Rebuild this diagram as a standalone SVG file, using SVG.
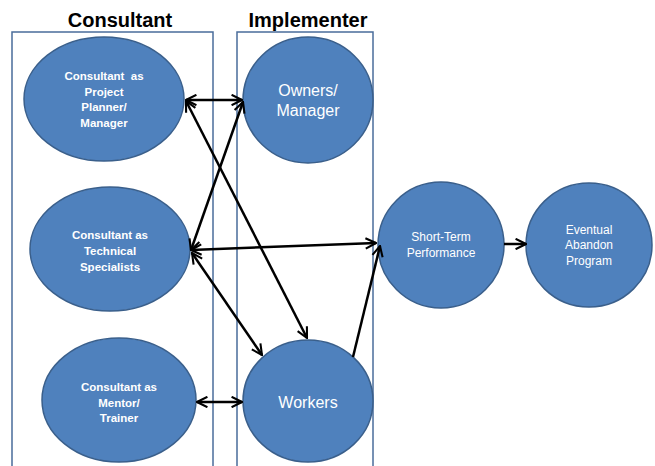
<svg xmlns="http://www.w3.org/2000/svg" width="655" height="466" viewBox="0 0 655 466">
<defs>
<marker id="ah" viewBox="0 0 12 12" refX="11" refY="6" markerWidth="5" markerHeight="5" orient="auto-start-reverse" markerUnits="strokeWidth">
<path d="M1,1 L11,6 L1,11" fill="none" stroke="#000" stroke-width="2"/>
</marker>
<style>
.lane{fill:none;stroke:#4A6C9B;stroke-width:1.5}
.head{font-family:"Liberation Sans",Arial,sans-serif;font-weight:bold;font-size:20px;fill:#000;text-anchor:middle}
.node ellipse{fill:#4F81BD;stroke:#3A5F8B;stroke-width:1.5}
.sb{font-family:"Liberation Sans",Arial,sans-serif;font-weight:bold;font-size:11.5px;fill:#fff;text-anchor:middle;white-space:pre}
.lg{font-family:"Liberation Sans",Arial,sans-serif;font-size:16px;fill:#fff;text-anchor:middle}
.sm{font-family:"Liberation Sans",Arial,sans-serif;font-size:12px;fill:#fff;text-anchor:middle}
.conn line{stroke:#000;stroke-width:2.5;marker-end:url(#ah)}
.conn line.both{marker-start:url(#ah)}
</style>
</defs>
<rect width="655" height="466" fill="#fff"/>
<g id="lanes">
<rect class="lane" x="12" y="32" width="201" height="450"/>
<rect class="lane" x="237" y="32" width="136" height="450"/>
<text class="head" x="120" y="27">Consultant</text>
<text class="head" x="308" y="27">Implementer</text>
</g>
<g id="planner" class="node">
<ellipse cx="104" cy="99" rx="80" ry="62"/>
<text class="sb" x="104" y="80">Consultant  as</text>
<text class="sb" x="104" y="96">Project</text>
<text class="sb" x="104" y="111">Planner/</text>
<text class="sb" x="104" y="127">Manager</text>
</g>
<g id="owners" class="node">
<ellipse cx="308" cy="100" rx="65" ry="63"/>
<text class="lg" x="308" y="96">Owners/</text>
<text class="lg" x="308" y="116">Manager</text>
</g>
<g id="technical" class="node">
<ellipse cx="110" cy="249" rx="80" ry="62"/>
<text class="sb" x="110" y="239">Consultant as</text>
<text class="sb" x="110" y="255">Technical</text>
<text class="sb" x="110" y="271">Specialists</text>
</g>
<g id="mentor" class="node">
<ellipse cx="119" cy="400" rx="77" ry="62"/>
<text class="sb" x="119" y="391">Consultant as</text>
<text class="sb" x="119" y="407">Mentor/</text>
<text class="sb" x="119" y="422">Trainer</text>
</g>
<g id="workers" class="node">
<ellipse cx="308" cy="401" rx="65" ry="61"/>
<text class="lg" x="308" y="408">Workers</text>
</g>
<g id="shortterm" class="node">
<ellipse cx="441" cy="245" rx="63" ry="63"/>
<text class="sm" x="441" y="241">Short-Term</text>
<text class="sm" x="441" y="257">Performance</text>
</g>
<g id="eventual" class="node">
<ellipse cx="589" cy="245" rx="63" ry="62"/>
<text class="sm" x="589" y="234">Eventual</text>
<text class="sm" x="589" y="249">Abandon</text>
<text class="sm" x="589" y="265">Program</text>
</g>
<g id="connectors" class="conn">
<line class="both" x1="186" y1="100" x2="242" y2="100"/>
<line class="both" x1="186" y1="101" x2="307" y2="338"/>
<line class="both" x1="243" y1="102" x2="191" y2="250"/>
<line class="both" x1="191" y1="250" x2="376" y2="243"/>
<line class="both" x1="192" y1="253" x2="262" y2="355"/>
<line class="both" x1="197" y1="402" x2="242" y2="402"/>
<line x1="353" y1="357" x2="380" y2="246"/>
<line x1="504" y1="244" x2="526" y2="244"/>
</g>
</svg>
